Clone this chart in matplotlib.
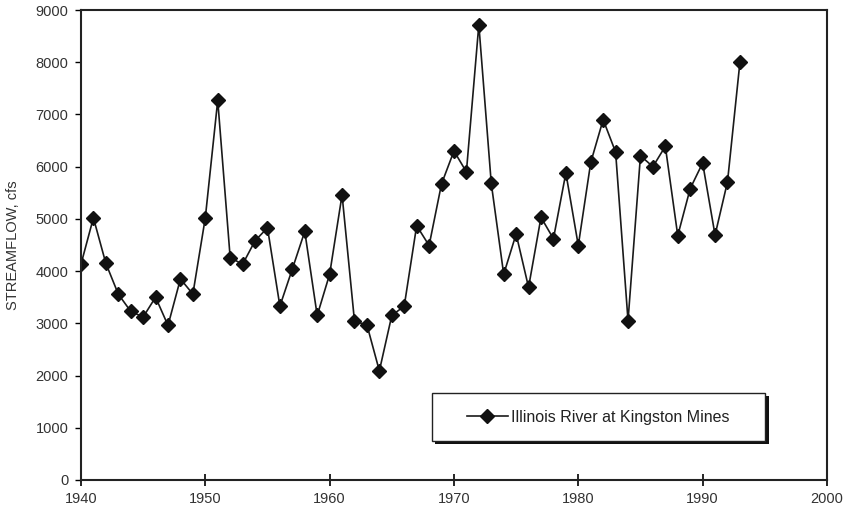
import matplotlib
matplotlib.use("Agg")
import matplotlib.pyplot as plt
from matplotlib.patches import Rectangle

plt.rcParams["font.family"] = ["Liberation Sans", "DejaVu Sans"]

# 年ごとの流量データ (Illinois River at Kingston Mines)
years = list(range(1940, 1994))
flow = [4130, 5020, 4150, 3560, 3230, 3120, 3500, 2960, 3850, 3560,
        5020, 7270, 4260, 4130, 4580, 4830, 3330, 4040, 4760, 3150,
        3940, 5460, 3040, 2970, 2090, 3150, 3330, 4870, 4490, 5670,
        6300, 5900, 8720, 5680, 3940, 4710, 3690, 5030, 4620, 5880,
        4490, 6080, 6900, 6280, 3050, 6210, 6000, 6390, 4680, 5580,
        6070, 4690, 5710, 8000]
series_label = "Illinois River at Kingston Mines"
x_ticks = [1940, 1950, 1960, 1970, 1980, 1990, 2000]
y_ticks = [0, 1000, 2000, 3000, 4000, 5000, 6000, 7000, 8000, 9000]

fig = plt.figure(figsize=(8.55, 5.16), dpi=100)
ax = fig.add_axes([0.0947, 0.0698, 0.8725, 0.9108])

ax.plot(years, flow, color="#1a1a1a", linewidth=1.2, marker="D",
        markersize=7, markerfacecolor="#111111", markeredgecolor="#111111",
        label=series_label)

ax.set_xlim(1940, 2000)
ax.set_ylim(0, 9000)
ax.set_xticks(x_ticks)
ax.set_yticks(y_ticks)
ax.tick_params(axis="x", direction="inout", length=8, width=1.2,
               labelsize=10.5, labelcolor="#333333", pad=5)
ax.tick_params(axis="y", direction="out", length=4, width=1.0,
               labelsize=10.5, labelcolor="#333333", pad=5)
for s in ax.spines.values():
    s.set_linewidth(1.5)
    s.set_color("#222222")

ax.set_ylabel("STREAMFLOW, cfs", fontsize=10.5, color="#333333")
ax.yaxis.set_label_coords(-0.082, 0.5)

# 凡例の枠 (影つき)
bx, by, bw, bh = 0.470, 0.083, 0.447, 0.102
ax.add_patch(Rectangle((bx + 0.005, by - 0.007), bw, bh, transform=ax.transAxes,
                       facecolor="#111111", edgecolor="none", zorder=4))
ax.add_patch(Rectangle((bx, by), bw, bh, transform=ax.transAxes,
                       facecolor="white", edgecolor="#222222", linewidth=1.0,
                       zorder=5))
leg = ax.legend(loc="center", bbox_to_anchor=(bx + bw / 2, by + bh / 2),
                frameon=False, fontsize=11.5, handlelength=2.6,
                handletextpad=0.2, labelcolor="#222222")
leg.set_zorder(6)

plt.savefig("out.png", dpi=100)
